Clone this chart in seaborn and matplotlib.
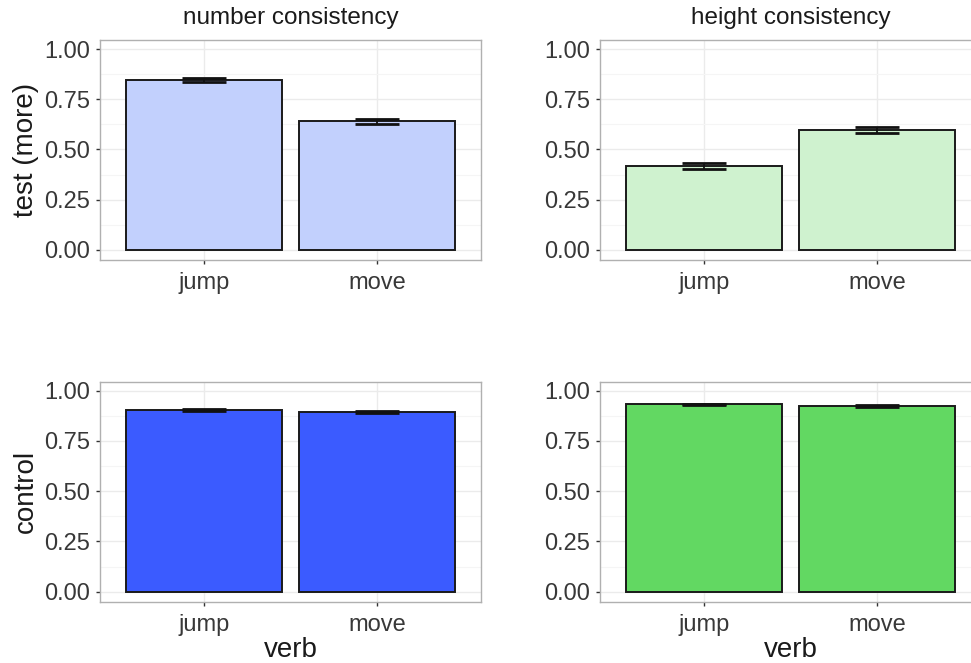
import matplotlib
matplotlib.use("Agg")
import matplotlib.pyplot as plt
import seaborn as sns
import pandas as pd
import numpy as np
from matplotlib.ticker import MultipleLocator

sns.set_theme(style="white")
plt.rcParams['font.family'] = ['Liberation Sans', 'DejaVu Sans']

verbs = ["jump", "move"]
panel_titles = ["number consistency", "height consistency"]
row_labels = ["test (more)", "control"]

test_number = [0.846, 0.640]
test_number_err = [0.008, 0.013]
test_height = [0.418, 0.597]
test_height_err = [0.013, 0.014]
control_number = [0.902, 0.894]
control_number_err = [0.005, 0.005]
control_height = [0.932, 0.925]
control_height_err = [0.004, 0.004]

yticks = [0.00, 0.25, 0.50, 0.75, 1.00]
ytick_labels = ["0.00", "0.25", "0.50", "0.75", "1.00"]

fills = [["#C2D0FD", "#CFF2CF"], ["#3B5BFF", "#62D862"]]
values = [[test_number, test_height], [control_number, control_height]]
errors = [[test_number_err, test_height_err], [control_number_err, control_height_err]]

W, H = 971, 663
fig = plt.figure(figsize=(W / 100, H / 100), dpi=100)

lefts = [100, 600]
tops = [40, 381.7]
aw, ah = 381, 220

tick_col = "#383838"
for r in range(2):
    for c in range(2):
        ax = fig.add_axes([lefts[c] / W, 1 - (tops[r] + ah) / H, aw / W, ah / H])
        df = pd.DataFrame({"verb": verbs, "value": values[r][c]})
        sns.barplot(data=df, x="verb", y="value", color=fills[r][c], saturation=1,
                    edgecolor="#1a1a1a", linewidth=1.4, width=0.9, errorbar=None,
                    ax=ax, zorder=3)
        ax.errorbar(np.arange(len(verbs)), values[r][c], yerr=errors[r][c], fmt="none",
                    ecolor="#111111", elinewidth=1.3, capsize=15.5, capthick=2.0, zorder=4)
        ax.set_xlim(-0.6, 1.6)
        ax.set_ylim(-0.05, 1.045)
        ax.set_yticks(yticks)
        ax.set_yticklabels(ytick_labels)
        ax.yaxis.set_minor_locator(MultipleLocator(0.125))
        ax.grid(True, which="major", color="#EBEBEB", linewidth=1.0, zorder=0)
        ax.grid(True, which="minor", axis="y", color="#F5F5F5", linewidth=0.8, zorder=0)
        ax.set_axisbelow(True)
        for s in ax.spines.values():
            s.set_color("#B0B0B0")
            s.set_linewidth(1.0)
        ax.tick_params(axis="both", which="major", length=3, width=1.0, color="#333333",
                       labelsize=17, labelcolor=tick_col, pad=4, bottom=True, left=True)
        ax.tick_params(axis="x", which="major", pad=6)
        ax.tick_params(axis="both", which="minor", length=0)
        ax.set_xlabel("")
        ax.set_ylabel("")
        if r == 0:
            ax.text(0.5, 1.1, panel_titles[c], transform=ax.transAxes, ha="center",
                    va="center", fontsize=17.5, color="#1a1a1a")
        if c == 0:
            ax.set_ylabel(row_labels[r], fontsize=20, color="#1a1a1a")
            ax.yaxis.set_label_coords(-0.194, 0.5)
            ax.yaxis.label.set_va("center")
        if r == 1:
            ax.set_xlabel("verb", fontsize=20, color="#1a1a1a")
            ax.xaxis.set_label_coords(0.5, -0.22)
            ax.xaxis.label.set_va("center")

fig.savefig("out.png", dpi=100)
